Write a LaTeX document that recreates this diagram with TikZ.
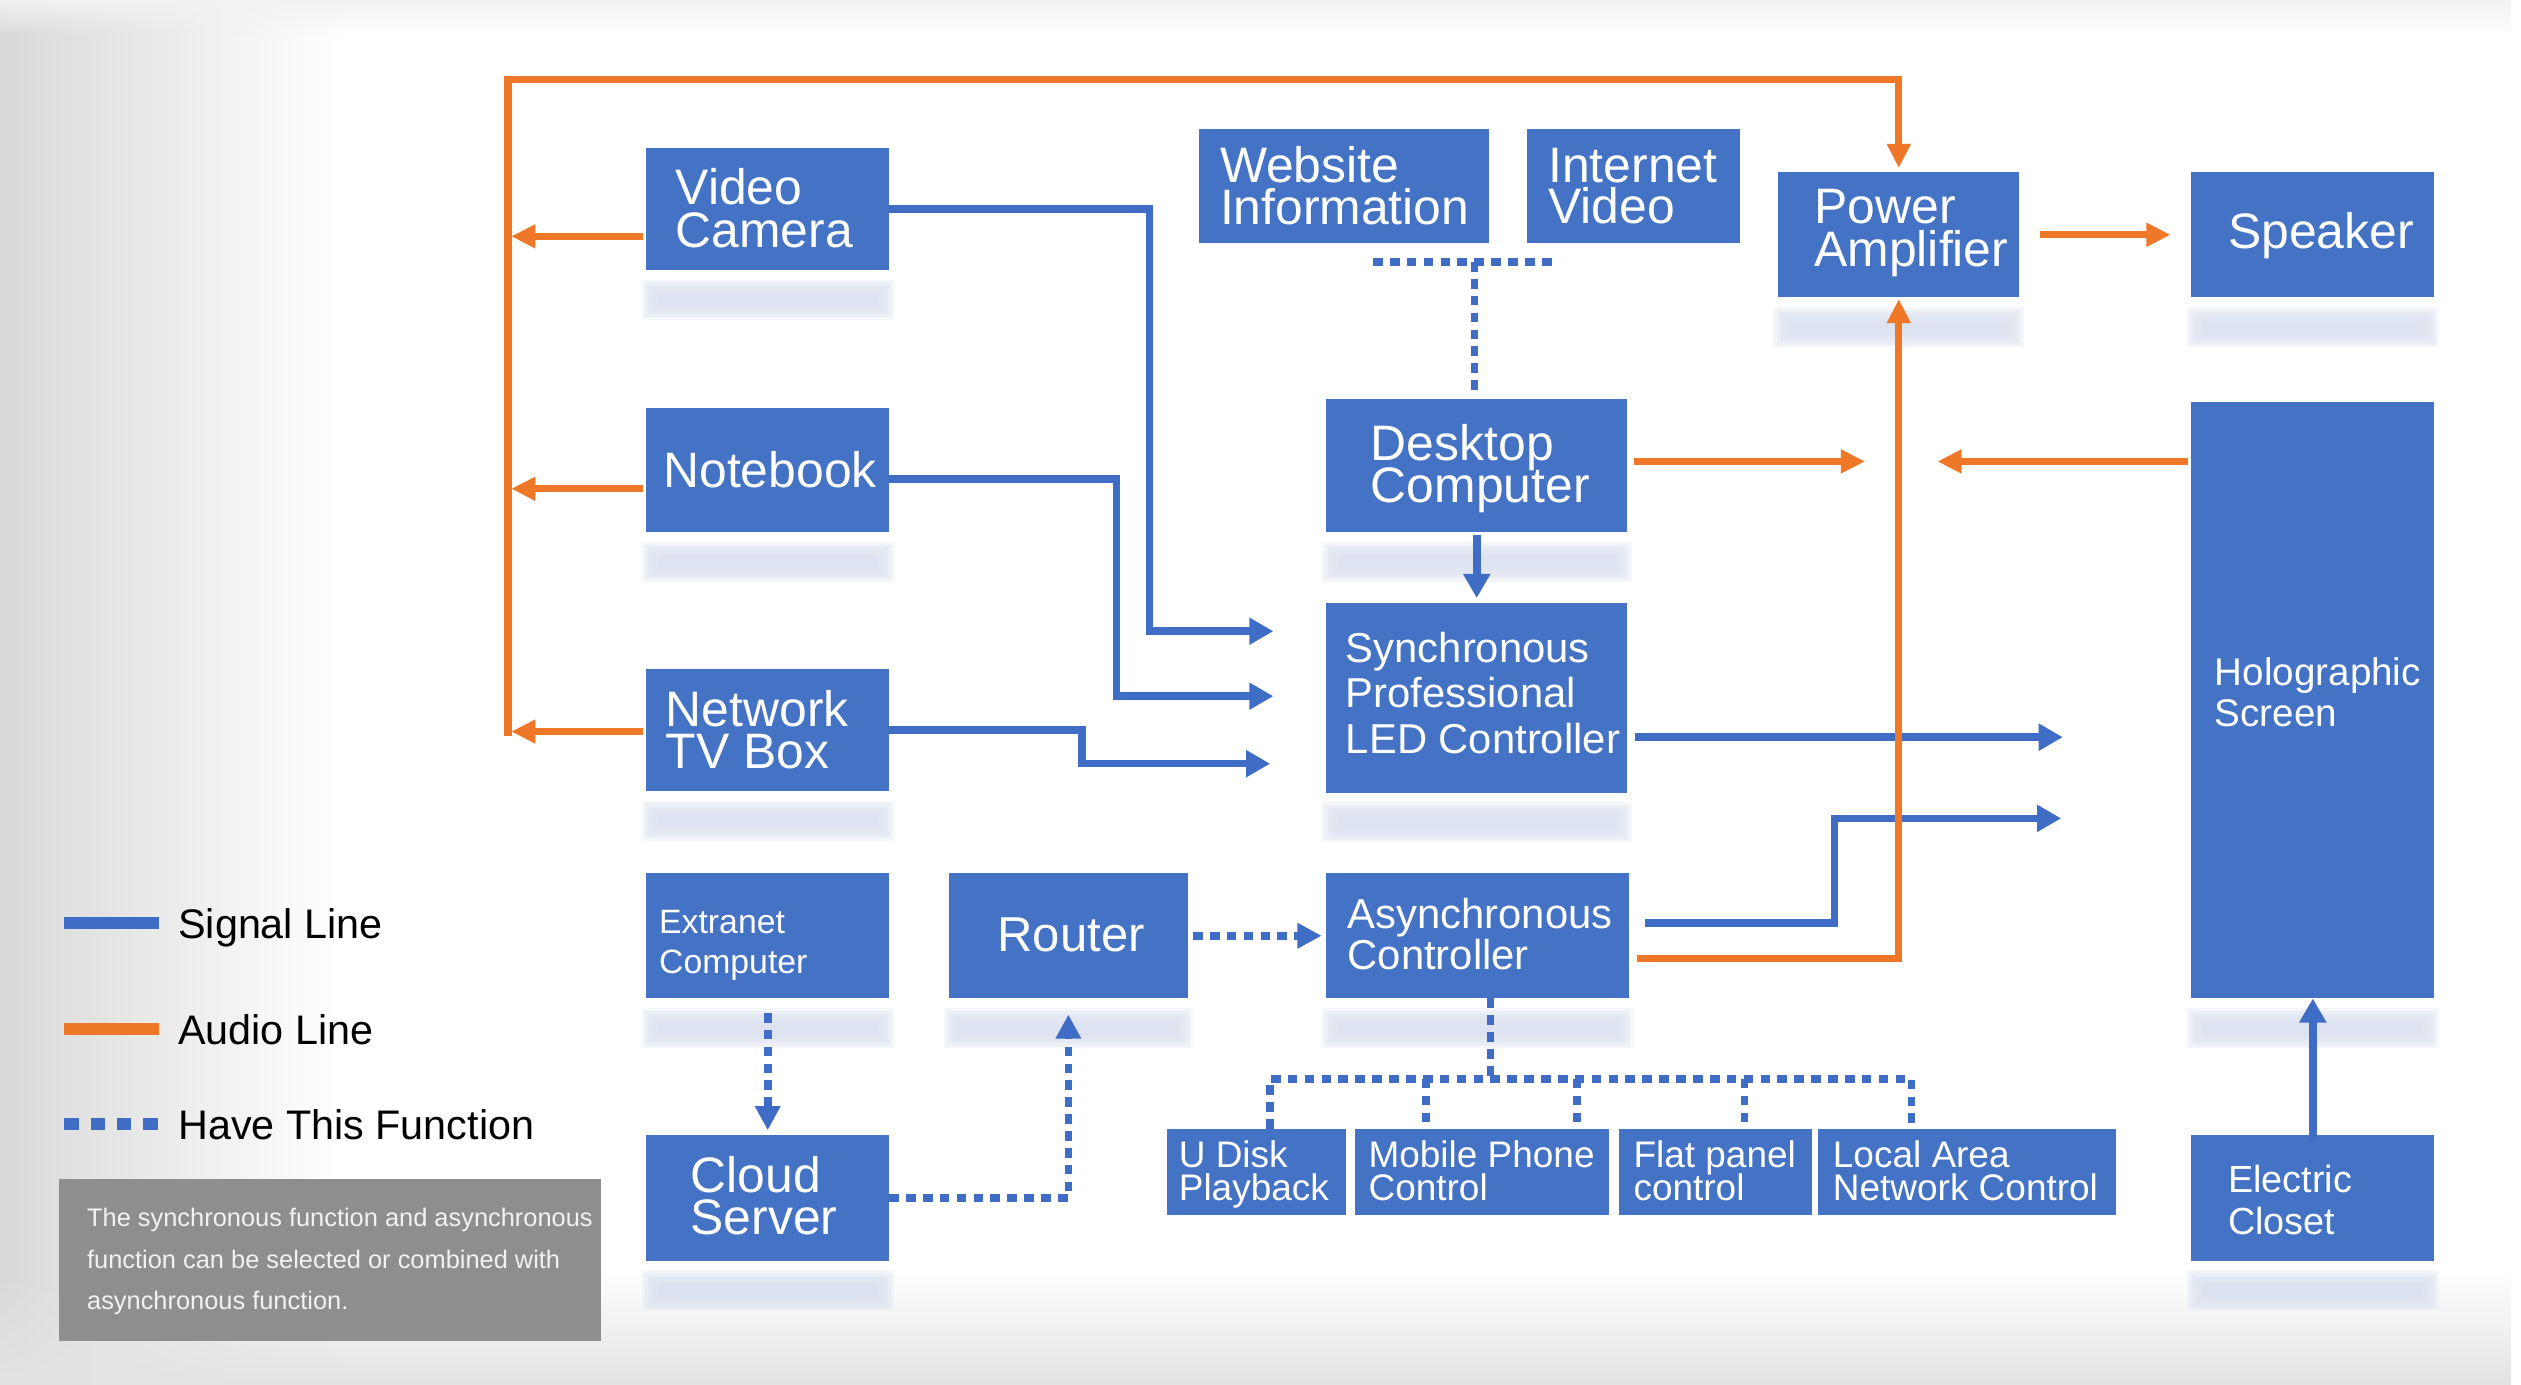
\documentclass[tikz,border=0pt]{standalone}
\usepackage{fontspec}
\setmainfont{Liberation Sans}
\usetikzlibrary{arrows.meta,calc,fadings}
\definecolor{boxblue}{HTML}{4472C4}
\definecolor{lineblue}{HTML}{3F6DC5}
\definecolor{aud}{HTML}{EE7728}
\definecolor{notegray}{HTML}{8E8E8E}
\definecolor{shadowc}{HTML}{D8E0EF}
\tikzfading[name=fadeR, left color=transparent!0, right color=transparent!100]
\tikzfading[name=fadeB, top color=transparent!100, bottom color=transparent!0]
\tikzfading[name=fadeT, top color=transparent!0, bottom color=transparent!100]
\newcommand\ml[2]{\vtop{\baselineskip=#1\lineskiplimit=-1000pt\relax #2}}
\newcommand\fs[1]{\fontsize{#1}{#1}\selectfont}
\begin{document}
\begin{tikzpicture}[x=1pt,y=-1pt,
  blk/.style={rectangle, fill=boxblue, inner sep=0pt, outer sep=0pt},
  lbl/.style={anchor=base west, inner sep=0pt, outer sep=0pt, text=white},
  sig/.style={draw=lineblue, line width=4.7pt},
  sigarr/.style={sig, -{Triangle[length=15pt,width=16pt]}},
  audio/.style={draw=aud, line width=4.5pt},
  audarr/.style={audio, -{Triangle[length=15pt,width=14pt]}},
  dot/.style={draw=lineblue, line width=4.7pt, dash pattern=on 6pt off 4.5pt},
  dotarr/.style={dot, -{Triangle[length=15pt,width=15pt]}},
  shad/.style={fill=shadowc, fill opacity=0.28}
]
% background
\useasboundingbox (0,0) rectangle (1568,861.4);
\fill[white] (0,0) rectangle (1568,861.4);
\fill[black!15, path fading=fadeR] (0,0) rectangle (210,861.4);
\fill[black!5, path fading=fadeT] (0,0) rectangle (1568,22);
\fill[black!11, path fading=fadeB] (0,790) rectangle (1568,861.4);

% boxes
\node[blk, minimum width=151pt, minimum height=76pt] (vc) at (477.5,130) {};
\node[blk, minimum width=151pt, minimum height=77pt] (nb) at (477.5,292.5) {};
\node[blk, minimum width=151pt, minimum height=76pt] (nt) at (477.5,454) {};
\node[blk, minimum width=151pt, minimum height=78pt] (ex) at (477.5,582) {};
\node[blk, minimum width=151pt, minimum height=78pt] (cs) at (477.5,745) {};
\node[blk, minimum width=149pt, minimum height=78pt] (rt) at (664.5,582) {};
\node[blk, minimum width=180pt, minimum height=71pt] (wi) at (836,115.5) {};
\node[blk, minimum width=132pt, minimum height=71pt] (iv) at (1016,115.5) {};
\node[blk, minimum width=150pt, minimum height=78pt] (pa) at (1181,146) {};
\node[blk, minimum width=151pt, minimum height=78pt] (sp) at (1438.5,146) {};
\node[blk, minimum width=187pt, minimum height=83pt] (dc) at (918.5,289.5) {};
\node[blk, minimum width=187pt, minimum height=118pt] (sy) at (918.5,434) {};
\node[blk, minimum width=188pt, minimum height=78pt] (ac) at (919,582) {};
\node[blk, minimum width=151pt, minimum height=371pt] (ho) at (1438.5,435.5) {};
\node[blk, minimum width=151pt, minimum height=78pt] (ec) at (1438.5,745) {};
\node[blk, minimum width=111pt, minimum height=54pt] (ud) at (781.5,729) {};
\node[blk, minimum width=158pt, minimum height=54pt] (mp) at (922,729) {};
\node[blk, minimum width=120pt, minimum height=54pt] (fp) at (1067,729) {};
\node[blk, minimum width=185pt, minimum height=54pt] (la) at (1223.5,729) {};
\node[rectangle, fill=notegray, inner sep=0pt, minimum width=337pt, minimum height=101pt] (note) at (205.5,783.5) {};

% soft reflections under boxes
\foreach \n in {vc,nb,nt,ex,cs,rt,pa,sp,dc,sy,ac,ho,ec}{
  \foreach \k in {0,...,5}{
    \fill[shad] ($(\n.south west)+(-3+2*\k,6+1.7*\k)$) rectangle ($(\n.south east)+(3-2*\k,31-1.7*\k)$);
  }
}

% labels
\node[lbl, font=\fs{31}] (vc-t) at (420.3,127.5) {\ml{26.5pt}{\hbox{Video}\hbox{Camera}}};
\node[lbl, font=\fs{31}] (nb-t) at (412.6,303.4) {Notebook};
\node[lbl, font=\fs{31}] (nt-t) at (414.1,451.7) {\ml{26.3pt}{\hbox{Network}\hbox{TV Box}}};
\node[lbl, font=\fs{21}] (ex-t) at (410,580.6) {\ml{24.7pt}{\hbox{Extranet}\hbox{Computer}}};
\node[lbl, font=\fs{31}] (cs-t) at (429.6,742) {\ml{25.8pt}{\hbox{Cloud}\hbox{Server}}};
\node[lbl, font=\fs{30.5}] (rt-t) at (620.4,591.8) {Router};
\node[lbl, font=\fs{31}] (wi-t) at (758.8,113.6) {\ml{26.3pt}{\hbox{Website}\hbox{Information}}};
\node[lbl, font=\fs{31}] (iv-t) at (963,113.6) {\ml{25.6pt}{\hbox{Internet}\hbox{Video}}};
\node[lbl, font=\fs{31}] (pa-t) at (1128.5,139.2) {\ml{26.7pt}{\hbox{Power}\hbox{Amplifier}}};
\node[lbl, font=\fs{31}] (sp-t) at (1385.8,154.4) {Speaker};
\node[lbl, font=\fs{31}] (dc-t) at (852.7,286.5) {\ml{26pt}{\hbox{Desktop}\hbox{Computer}}};
\node[lbl, font=\fs{26}] (sy-t) at (837.1,412) {\ml{28.3pt}{\hbox{Synchronous}\hbox{Professional}\hbox{LED Controller}}};
\node[lbl, font=\fs{26}] (ac-t) at (838.2,577.3) {\ml{25.7pt}{\hbox{Asynchronous}\hbox{Controller}}};
\node[lbl, font=\fs{24}] (ho-t) at (1377.6,426.4) {\ml{25.3pt}{\hbox{Holographic}\hbox{Screen}}};
\node[lbl, font=\fs{23.5}] (ec-t) at (1385.8,741.6) {\ml{26.2pt}{\hbox{Electric}\hbox{Closet}}};
\node[lbl, font=\fs{23}] (ud-t) at (733.2,726.3) {\ml{20.2pt}{\hbox{U Disk}\hbox{Playback}}};
\node[lbl, font=\fs{23}] (mp-t) at (851.2,726.3) {\ml{20.2pt}{\hbox{Mobile Phone}\hbox{Control}}};
\node[lbl, font=\fs{23}] (fp-t) at (1016,726.3) {\ml{20.2pt}{\hbox{Flat panel}\hbox{control}}};
\node[lbl, font=\fs{23}] (la-t) at (1140,726.3) {\ml{20.2pt}{\hbox{Local Area}\hbox{Network Control}}};
\node[lbl, font=\fs{15.8}, text=black!5] (note-t) at (54.2,762.9) {\ml{25.8pt}{\hbox{The synchronous function and asynchronous}\hbox{function can be selected or combined with}\hbox{asynchronous function.}}};

% legend
\draw[sig, line width=7.8pt] (40,574) -- (99,574);
\draw[audio, line width=7.8pt] (40,640) -- (99,640);
\draw[draw=lineblue, line width=7.9pt, dash pattern=on 8.9pt off 7.5pt] (40,699) -- (99,699);
\node[lbl, text=black, font=\fs{25.7}] (lg1) at (110.9,584) {Signal Line};
\node[lbl, text=black, font=\fs{25.7}] (lg2) at (110.9,649.4) {Audio Line};
\node[lbl, text=black, font=\fs{25.7}] (lg3) at (110.9,709) {Have This Function};

% free connector ends
\coordinate (si1) at ($(sy.north west)+(-33,17.6)$);
\coordinate (si2) at ($(sy.west)+(-33,-1)$);
\coordinate (si3) at ($(sy.south west)+(-35,-18)$);
\coordinate (hi1) at ($(ho.west)+(-80,23)$);
\coordinate (hi2) at ($(ho.west)+(-81,73.5)$);
\coordinate (busb) at ($(nt.west)+(-86,4)$);
\coordinate (bust) at ($(busb)+(0,-408.4)$);
\coordinate (wt) at ($(wi.south)+(81,12)$);
\coordinate (hub) at ($(ac.south)+(8,50)$);

% signal lines
\draw[sigarr] (vc.east) -- ++(162,0) |- (si1);
\draw[sigarr] ($(nb.east)+(0,5.5)$) -- ++(141.4,0) |- (si2);
\draw[sigarr] (nt.east) -- ++(120,0) |- (si3);
\draw[sigarr] ($(sy.east)+(5,24.5)$) -- (hi1);
\draw[sigarr] ($(ac.east)+(10,-8)$) -- ++(118,0) |- (hi2);
\draw[sigarr, shorten <=2pt, shorten >=3pt] (dc.south) -- (sy.north);
\draw[sigarr, shorten <=-4pt] (ec.north) -- (ho.south);

% audio lines
\draw[audarr, shorten >=2.5pt] (busb) -- (bust) -| (pa.north);
\draw[audarr] ($(vc.west)+(-2,17)$) -- ++(-82,0);
\draw[audarr] ($(nb.west)+(-2,11.5)$) -- ++(-82,0);
\draw[audarr] ($(nt.west)+(-2,1)$) -- ++(-82,0);
\draw[audarr, shorten <=13pt, shorten >=13pt] (pa.east) -- (sp.west);
\draw[audarr] ($(dc.east)+(4,-2.5)$) -- ++(144,0);
\draw[audarr] ($(ho.north west)+(-2,37)$) -- ++(-156,0);
\draw[audarr, shorten >=1pt] ($(ac.east)+(5,14)$) -| (pa.south);

% function (dotted) lines
\draw[dot] ($(wi.south)+(18,12)$) -- ($(iv.south)+(-48,12)$);
\draw[dot, shorten >=5pt] (wt) -- (wt |- dc.north);
\draw[dotarr, shorten <=9pt, shorten >=3pt] (ex.south) -- (cs.north);
\draw[dotarr, shorten >=10pt] (cs.east) -| (rt.south);
\draw[dotarr, shorten <=3pt, shorten >=3pt] (rt.east) -- (ac.west);
\draw[dot] ($(ac.south)+(8,0)$) -- (hub);
\draw[dot] ($(ud.north)+(8.5,0)$) |- ($(la.north)+(-34.5,-31)$) -- ($(la.north)+(-34.5,0)$);
\draw[dot] ($(mp.north)+(-35,-31)$) -- ($(mp.north)+(-35,0)$);
\draw[dot] ($(mp.north)+(59,-31)$) -- ($(mp.north)+(59,0)$);
\draw[dot] ($(fp.north)+(18,-31)$) -- ($(fp.north)+(18,0)$);
\end{tikzpicture}
\end{document}
